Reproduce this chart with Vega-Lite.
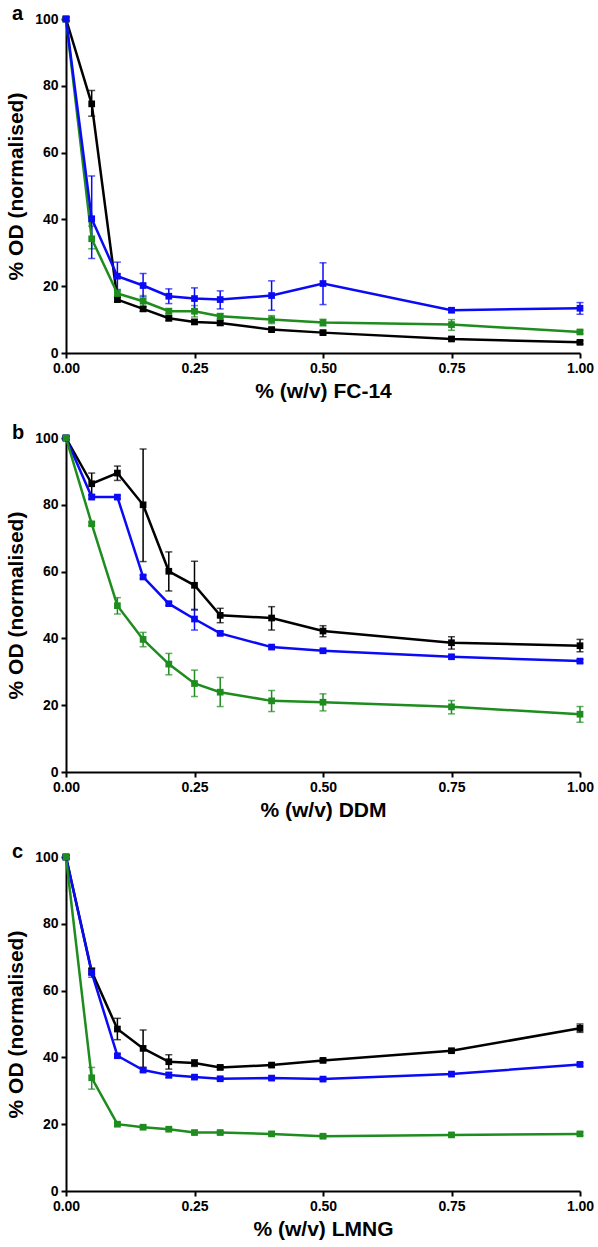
{
  "$schema": "https://vega.github.io/schema/vega-lite/v6.json",
  "padding": {"left": 5, "top": 4, "right": 10, "bottom": 3},
  "background": "white",
  "spacing": 22,
  "config": {
    "font": "Liberation Sans",
    "view": {"stroke": null},
    "axis": {
      "grid": false,
      "domainColor": "black",
      "domainWidth": 2,
      "tickColor": "black",
      "tickWidth": 2,
      "tickSize": 5,
      "labelColor": "black",
      "labelFontWeight": "bold",
      "titleColor": "black",
      "titleFontWeight": "bold",
      "labelFont": "Liberation Sans",
      "titleFont": "Liberation Sans",
      "labelFlush": false
    },
    "title": {"anchor": "start", "frame": "group", "dx": -54, "fontSize": 20, "fontWeight": "bold", "color": "black", "offset": -12}
  },
  "datasets": {
    "od": [
      {"panel": "a", "series": "black", "x": 0, "y": 100, "lo": 99.5, "hi": 100.5},
      {"panel": "a", "series": "black", "x": 0.05, "y": 74.6, "lo": 70.9, "hi": 78.6},
      {"panel": "a", "series": "black", "x": 0.1, "y": 16, "lo": 15.3, "hi": 16.7},
      {"panel": "a", "series": "black", "x": 0.15, "y": 13.2, "lo": 12.5, "hi": 13.9},
      {"panel": "a", "series": "black", "x": 0.2, "y": 10.4, "lo": 9.7, "hi": 11.1},
      {"panel": "a", "series": "black", "x": 0.25, "y": 9.3, "lo": 8.6, "hi": 10},
      {"panel": "a", "series": "black", "x": 0.3, "y": 9.0, "lo": 8.3, "hi": 9.7},
      {"panel": "a", "series": "black", "x": 0.4, "y": 7.0, "lo": 6.4, "hi": 7.6},
      {"panel": "a", "series": "black", "x": 0.5, "y": 6.1, "lo": 5.5, "hi": 6.7},
      {"panel": "a", "series": "black", "x": 0.75, "y": 4.2, "lo": 3.7, "hi": 4.7},
      {"panel": "a", "series": "black", "x": 1.0, "y": 3.2, "lo": 2.7, "hi": 3.7},
      {"panel": "a", "series": "green", "x": 0, "y": 100, "lo": 99.5, "hi": 100.5},
      {"panel": "a", "series": "green", "x": 0.05, "y": 34.2, "lo": 31.2, "hi": 38},
      {"panel": "a", "series": "green", "x": 0.1, "y": 17.8, "lo": 16.8, "hi": 18.8},
      {"panel": "a", "series": "green", "x": 0.15, "y": 15.5, "lo": 13.8, "hi": 17.2},
      {"panel": "a", "series": "green", "x": 0.2, "y": 12.5, "lo": 11.7, "hi": 13.3},
      {"panel": "a", "series": "green", "x": 0.25, "y": 12.5, "lo": 10.8, "hi": 14.2},
      {"panel": "a", "series": "green", "x": 0.3, "y": 11, "lo": 10.2, "hi": 11.8},
      {"panel": "a", "series": "green", "x": 0.4, "y": 10, "lo": 8.8, "hi": 11.2},
      {"panel": "a", "series": "green", "x": 0.5, "y": 9.1, "lo": 8.1, "hi": 10.1},
      {"panel": "a", "series": "green", "x": 0.75, "y": 8.5, "lo": 6.8, "hi": 10},
      {"panel": "a", "series": "green", "x": 1.0, "y": 6.3, "lo": 5.8, "hi": 6.8},
      {"panel": "a", "series": "blue", "x": 0, "y": 100, "lo": 99.5, "hi": 100.5},
      {"panel": "a", "series": "blue", "x": 0.05, "y": 40.2, "lo": 28.3, "hi": 53},
      {"panel": "a", "series": "blue", "x": 0.1, "y": 23, "lo": 19, "hi": 27.2},
      {"panel": "a", "series": "blue", "x": 0.15, "y": 20.2, "lo": 16.8, "hi": 23.8},
      {"panel": "a", "series": "blue", "x": 0.2, "y": 17, "lo": 14.8, "hi": 19.2},
      {"panel": "a", "series": "blue", "x": 0.25, "y": 16.3, "lo": 13, "hi": 19.5},
      {"panel": "a", "series": "blue", "x": 0.3, "y": 16, "lo": 13.2, "hi": 18.6},
      {"panel": "a", "series": "blue", "x": 0.4, "y": 17.2, "lo": 12.8, "hi": 21.6},
      {"panel": "a", "series": "blue", "x": 0.5, "y": 20.8, "lo": 14.5, "hi": 27},
      {"panel": "a", "series": "blue", "x": 0.75, "y": 12.8, "lo": 12.2, "hi": 13.4},
      {"panel": "a", "series": "blue", "x": 1.0, "y": 13.4, "lo": 11.6, "hi": 15.1},

      {"panel": "b", "series": "black", "x": 0, "y": 100, "lo": 99.5, "hi": 100.5},
      {"panel": "b", "series": "black", "x": 0.05, "y": 86.3, "lo": 83.1, "hi": 89.5},
      {"panel": "b", "series": "black", "x": 0.1, "y": 89.5, "lo": 87.3, "hi": 91.6},
      {"panel": "b", "series": "black", "x": 0.15, "y": 80, "lo": 63, "hi": 96.7},
      {"panel": "b", "series": "black", "x": 0.2, "y": 60.1, "lo": 54.2, "hi": 65.9},
      {"panel": "b", "series": "black", "x": 0.25, "y": 55.9, "lo": 48.5, "hi": 63.1},
      {"panel": "b", "series": "black", "x": 0.3, "y": 46.9, "lo": 44.7, "hi": 49},
      {"panel": "b", "series": "black", "x": 0.4, "y": 46.1, "lo": 42.5, "hi": 49.5},
      {"panel": "b", "series": "black", "x": 0.5, "y": 42.2, "lo": 40.5, "hi": 43.8},
      {"panel": "b", "series": "black", "x": 0.75, "y": 38.7, "lo": 36.8, "hi": 40.5},
      {"panel": "b", "series": "black", "x": 1.0, "y": 37.8, "lo": 36, "hi": 39.7},
      {"panel": "b", "series": "blue", "x": 0, "y": 100, "lo": 99.5, "hi": 100.5},
      {"panel": "b", "series": "blue", "x": 0.05, "y": 82.3, "lo": 81.8, "hi": 82.8},
      {"panel": "b", "series": "blue", "x": 0.1, "y": 82.3, "lo": 81.8, "hi": 82.8},
      {"panel": "b", "series": "blue", "x": 0.15, "y": 58.4, "lo": 57.9, "hi": 58.9},
      {"panel": "b", "series": "blue", "x": 0.2, "y": 50.4, "lo": 49.9, "hi": 50.9},
      {"panel": "b", "series": "blue", "x": 0.25, "y": 45.8, "lo": 42.5, "hi": 48.7},
      {"panel": "b", "series": "blue", "x": 0.3, "y": 41.5, "lo": 41, "hi": 42},
      {"panel": "b", "series": "blue", "x": 0.4, "y": 37.4, "lo": 36.9, "hi": 37.9},
      {"panel": "b", "series": "blue", "x": 0.5, "y": 36.3, "lo": 35.8, "hi": 36.8},
      {"panel": "b", "series": "blue", "x": 0.75, "y": 34.5, "lo": 34, "hi": 35},
      {"panel": "b", "series": "blue", "x": 1.0, "y": 33.2, "lo": 32.7, "hi": 33.7},
      {"panel": "b", "series": "green", "x": 0, "y": 100, "lo": 99.5, "hi": 100.5},
      {"panel": "b", "series": "green", "x": 0.05, "y": 74.3, "lo": 73.8, "hi": 74.8},
      {"panel": "b", "series": "green", "x": 0.1, "y": 49.8, "lo": 47.3, "hi": 52.2},
      {"panel": "b", "series": "green", "x": 0.15, "y": 39.7, "lo": 37.5, "hi": 41.8},
      {"panel": "b", "series": "green", "x": 0.2, "y": 32.3, "lo": 29.1, "hi": 35.5},
      {"panel": "b", "series": "green", "x": 0.25, "y": 26.5, "lo": 22.6, "hi": 30.5},
      {"panel": "b", "series": "green", "x": 0.3, "y": 23.9, "lo": 19.6, "hi": 28.3},
      {"panel": "b", "series": "green", "x": 0.4, "y": 21.3, "lo": 18.1, "hi": 24.4},
      {"panel": "b", "series": "green", "x": 0.5, "y": 20.9, "lo": 18.3, "hi": 23.4},
      {"panel": "b", "series": "green", "x": 0.75, "y": 19.5, "lo": 17.4, "hi": 21.4},
      {"panel": "b", "series": "green", "x": 1.0, "y": 17.3, "lo": 14.9, "hi": 19.6},

      {"panel": "c", "series": "black", "x": 0, "y": 100, "lo": 99.5, "hi": 100.5},
      {"panel": "c", "series": "black", "x": 0.05, "y": 65.7, "lo": 64.8, "hi": 66.6},
      {"panel": "c", "series": "black", "x": 0.1, "y": 48.5, "lo": 45.3, "hi": 51.7},
      {"panel": "c", "series": "black", "x": 0.15, "y": 42.7, "lo": 37, "hi": 48.2},
      {"panel": "c", "series": "black", "x": 0.2, "y": 38.7, "lo": 36.5, "hi": 40.8},
      {"panel": "c", "series": "black", "x": 0.25, "y": 38.3, "lo": 37.3, "hi": 39.3},
      {"panel": "c", "series": "black", "x": 0.3, "y": 37, "lo": 36.4, "hi": 37.6},
      {"panel": "c", "series": "black", "x": 0.4, "y": 37.7, "lo": 37.2, "hi": 38.2},
      {"panel": "c", "series": "black", "x": 0.5, "y": 39.1, "lo": 38.6, "hi": 39.6},
      {"panel": "c", "series": "black", "x": 0.75, "y": 42, "lo": 41.5, "hi": 42.5},
      {"panel": "c", "series": "black", "x": 1.0, "y": 48.7, "lo": 47.5, "hi": 50},
      {"panel": "c", "series": "blue", "x": 0, "y": 100, "lo": 99.5, "hi": 100.5},
      {"panel": "c", "series": "blue", "x": 0.05, "y": 65.4, "lo": 64, "hi": 66.8},
      {"panel": "c", "series": "blue", "x": 0.1, "y": 40.5, "lo": 40, "hi": 41},
      {"panel": "c", "series": "blue", "x": 0.15, "y": 36.2, "lo": 35.7, "hi": 36.7},
      {"panel": "c", "series": "blue", "x": 0.2, "y": 34.7, "lo": 33.9, "hi": 35.5},
      {"panel": "c", "series": "blue", "x": 0.25, "y": 34.1, "lo": 33.6, "hi": 34.6},
      {"panel": "c", "series": "blue", "x": 0.3, "y": 33.6, "lo": 33.1, "hi": 34.1},
      {"panel": "c", "series": "blue", "x": 0.4, "y": 33.8, "lo": 33.3, "hi": 34.3},
      {"panel": "c", "series": "blue", "x": 0.5, "y": 33.5, "lo": 33, "hi": 34},
      {"panel": "c", "series": "blue", "x": 0.75, "y": 35, "lo": 34.5, "hi": 35.5},
      {"panel": "c", "series": "blue", "x": 1.0, "y": 37.9, "lo": 37.4, "hi": 38.4},
      {"panel": "c", "series": "green", "x": 0, "y": 100, "lo": 99.5, "hi": 100.5},
      {"panel": "c", "series": "green", "x": 0.05, "y": 33.9, "lo": 30.5, "hi": 37},
      {"panel": "c", "series": "green", "x": 0.1, "y": 20, "lo": 19.5, "hi": 20.5},
      {"panel": "c", "series": "green", "x": 0.15, "y": 19.1, "lo": 18.6, "hi": 19.6},
      {"panel": "c", "series": "green", "x": 0.2, "y": 18.5, "lo": 18, "hi": 19},
      {"panel": "c", "series": "green", "x": 0.25, "y": 17.5, "lo": 17, "hi": 18},
      {"panel": "c", "series": "green", "x": 0.3, "y": 17.5, "lo": 17, "hi": 18},
      {"panel": "c", "series": "green", "x": 0.4, "y": 17.1, "lo": 16.6, "hi": 17.6},
      {"panel": "c", "series": "green", "x": 0.5, "y": 16.4, "lo": 15.9, "hi": 16.9},
      {"panel": "c", "series": "green", "x": 0.75, "y": 16.8, "lo": 16.3, "hi": 17.3},
      {"panel": "c", "series": "green", "x": 1.0, "y": 17.1, "lo": 16.6, "hi": 17.6}
    ]
  },
  "vconcat": [
    {
      "title": {"text": "a"},
      "width": 514, "height": 334,
      "data": {"name": "od"},
      "transform": [{"filter": "datum.panel === 'a'"}],
      "encoding": {
        "x": {"field": "x", "type": "quantitative", "scale": {"domain": [0, 1], "nice": false},
          "axis": {"values": [0, 0.25, 0.5, 0.75, 1], "format": ".2f", "title": "% (w/v) FC-14", "labelFontSize": 14, "titleFontSize": 21, "labelPadding": 3, "titlePadding": 5}},
        "color": {"field": "series", "type": "nominal", "scale": {"domain": ["blue", "green", "black"], "range": ["#0a0af5", "#1e8c1e", "#000000"]}, "legend": null}
      },
      "layer": [
        {"mark": {"type": "errorbar", "ticks": {"size": 7}, "thickness": 1.5},
          "encoding": {"y": {"field": "lo", "type": "quantitative", "scale": {"domain": [0, 100]},
            "axis": {"values": [0, 20, 40, 60, 80, 100], "title": "% OD (normalised)", "labelFontSize": 14, "titleFontSize": 21, "labelPadding": 3, "titlePadding": 8}},
            "y2": {"field": "hi"}}},
        {"mark": {"type": "line", "strokeWidth": 2.5, "point": {"shape": "square", "filled": true, "size": 45, "opacity": 1}},
          "encoding": {"y": {"field": "y", "type": "quantitative"}}}
      ]
    },
    {
      "title": {"text": "b"},
      "width": 514, "height": 334,
      "data": {"name": "od"},
      "transform": [{"filter": "datum.panel === 'b'"}],
      "encoding": {
        "x": {"field": "x", "type": "quantitative", "scale": {"domain": [0, 1], "nice": false},
          "axis": {"values": [0, 0.25, 0.5, 0.75, 1], "format": ".2f", "title": "% (w/v) DDM", "labelFontSize": 14, "titleFontSize": 21, "labelPadding": 3, "titlePadding": 5}},
        "color": {"field": "series", "type": "nominal", "scale": {"domain": ["blue", "green", "black"], "range": ["#0a0af5", "#1e8c1e", "#000000"]}, "legend": null}
      },
      "layer": [
        {"mark": {"type": "errorbar", "ticks": {"size": 7}, "thickness": 1.5},
          "encoding": {"y": {"field": "lo", "type": "quantitative", "scale": {"domain": [0, 100]},
            "axis": {"values": [0, 20, 40, 60, 80, 100], "title": "% OD (normalised)", "labelFontSize": 14, "titleFontSize": 21, "labelPadding": 3, "titlePadding": 8}},
            "y2": {"field": "hi"}}},
        {"mark": {"type": "line", "strokeWidth": 2.5, "point": {"shape": "square", "filled": true, "size": 45, "opacity": 1}},
          "encoding": {"y": {"field": "y", "type": "quantitative"}}}
      ]
    },
    {
      "title": {"text": "c"},
      "width": 514, "height": 334,
      "data": {"name": "od"},
      "transform": [{"filter": "datum.panel === 'c'"}],
      "encoding": {
        "x": {"field": "x", "type": "quantitative", "scale": {"domain": [0, 1], "nice": false},
          "axis": {"values": [0, 0.25, 0.5, 0.75, 1], "format": ".2f", "title": "% (w/v) LMNG", "labelFontSize": 14, "titleFontSize": 21, "labelPadding": 3, "titlePadding": 5}},
        "color": {"field": "series", "type": "nominal", "scale": {"domain": ["blue", "green", "black"], "range": ["#0a0af5", "#1e8c1e", "#000000"]}, "legend": null}
      },
      "layer": [
        {"mark": {"type": "errorbar", "ticks": {"size": 7}, "thickness": 1.5},
          "encoding": {"y": {"field": "lo", "type": "quantitative", "scale": {"domain": [0, 100]},
            "axis": {"values": [0, 20, 40, 60, 80, 100], "title": "% OD (normalised)", "labelFontSize": 14, "titleFontSize": 21, "labelPadding": 3, "titlePadding": 8}},
            "y2": {"field": "hi"}}},
        {"mark": {"type": "line", "strokeWidth": 2.5, "point": {"shape": "square", "filled": true, "size": 45, "opacity": 1}},
          "encoding": {"y": {"field": "y", "type": "quantitative"}}}
      ]
    }
  ]
}
